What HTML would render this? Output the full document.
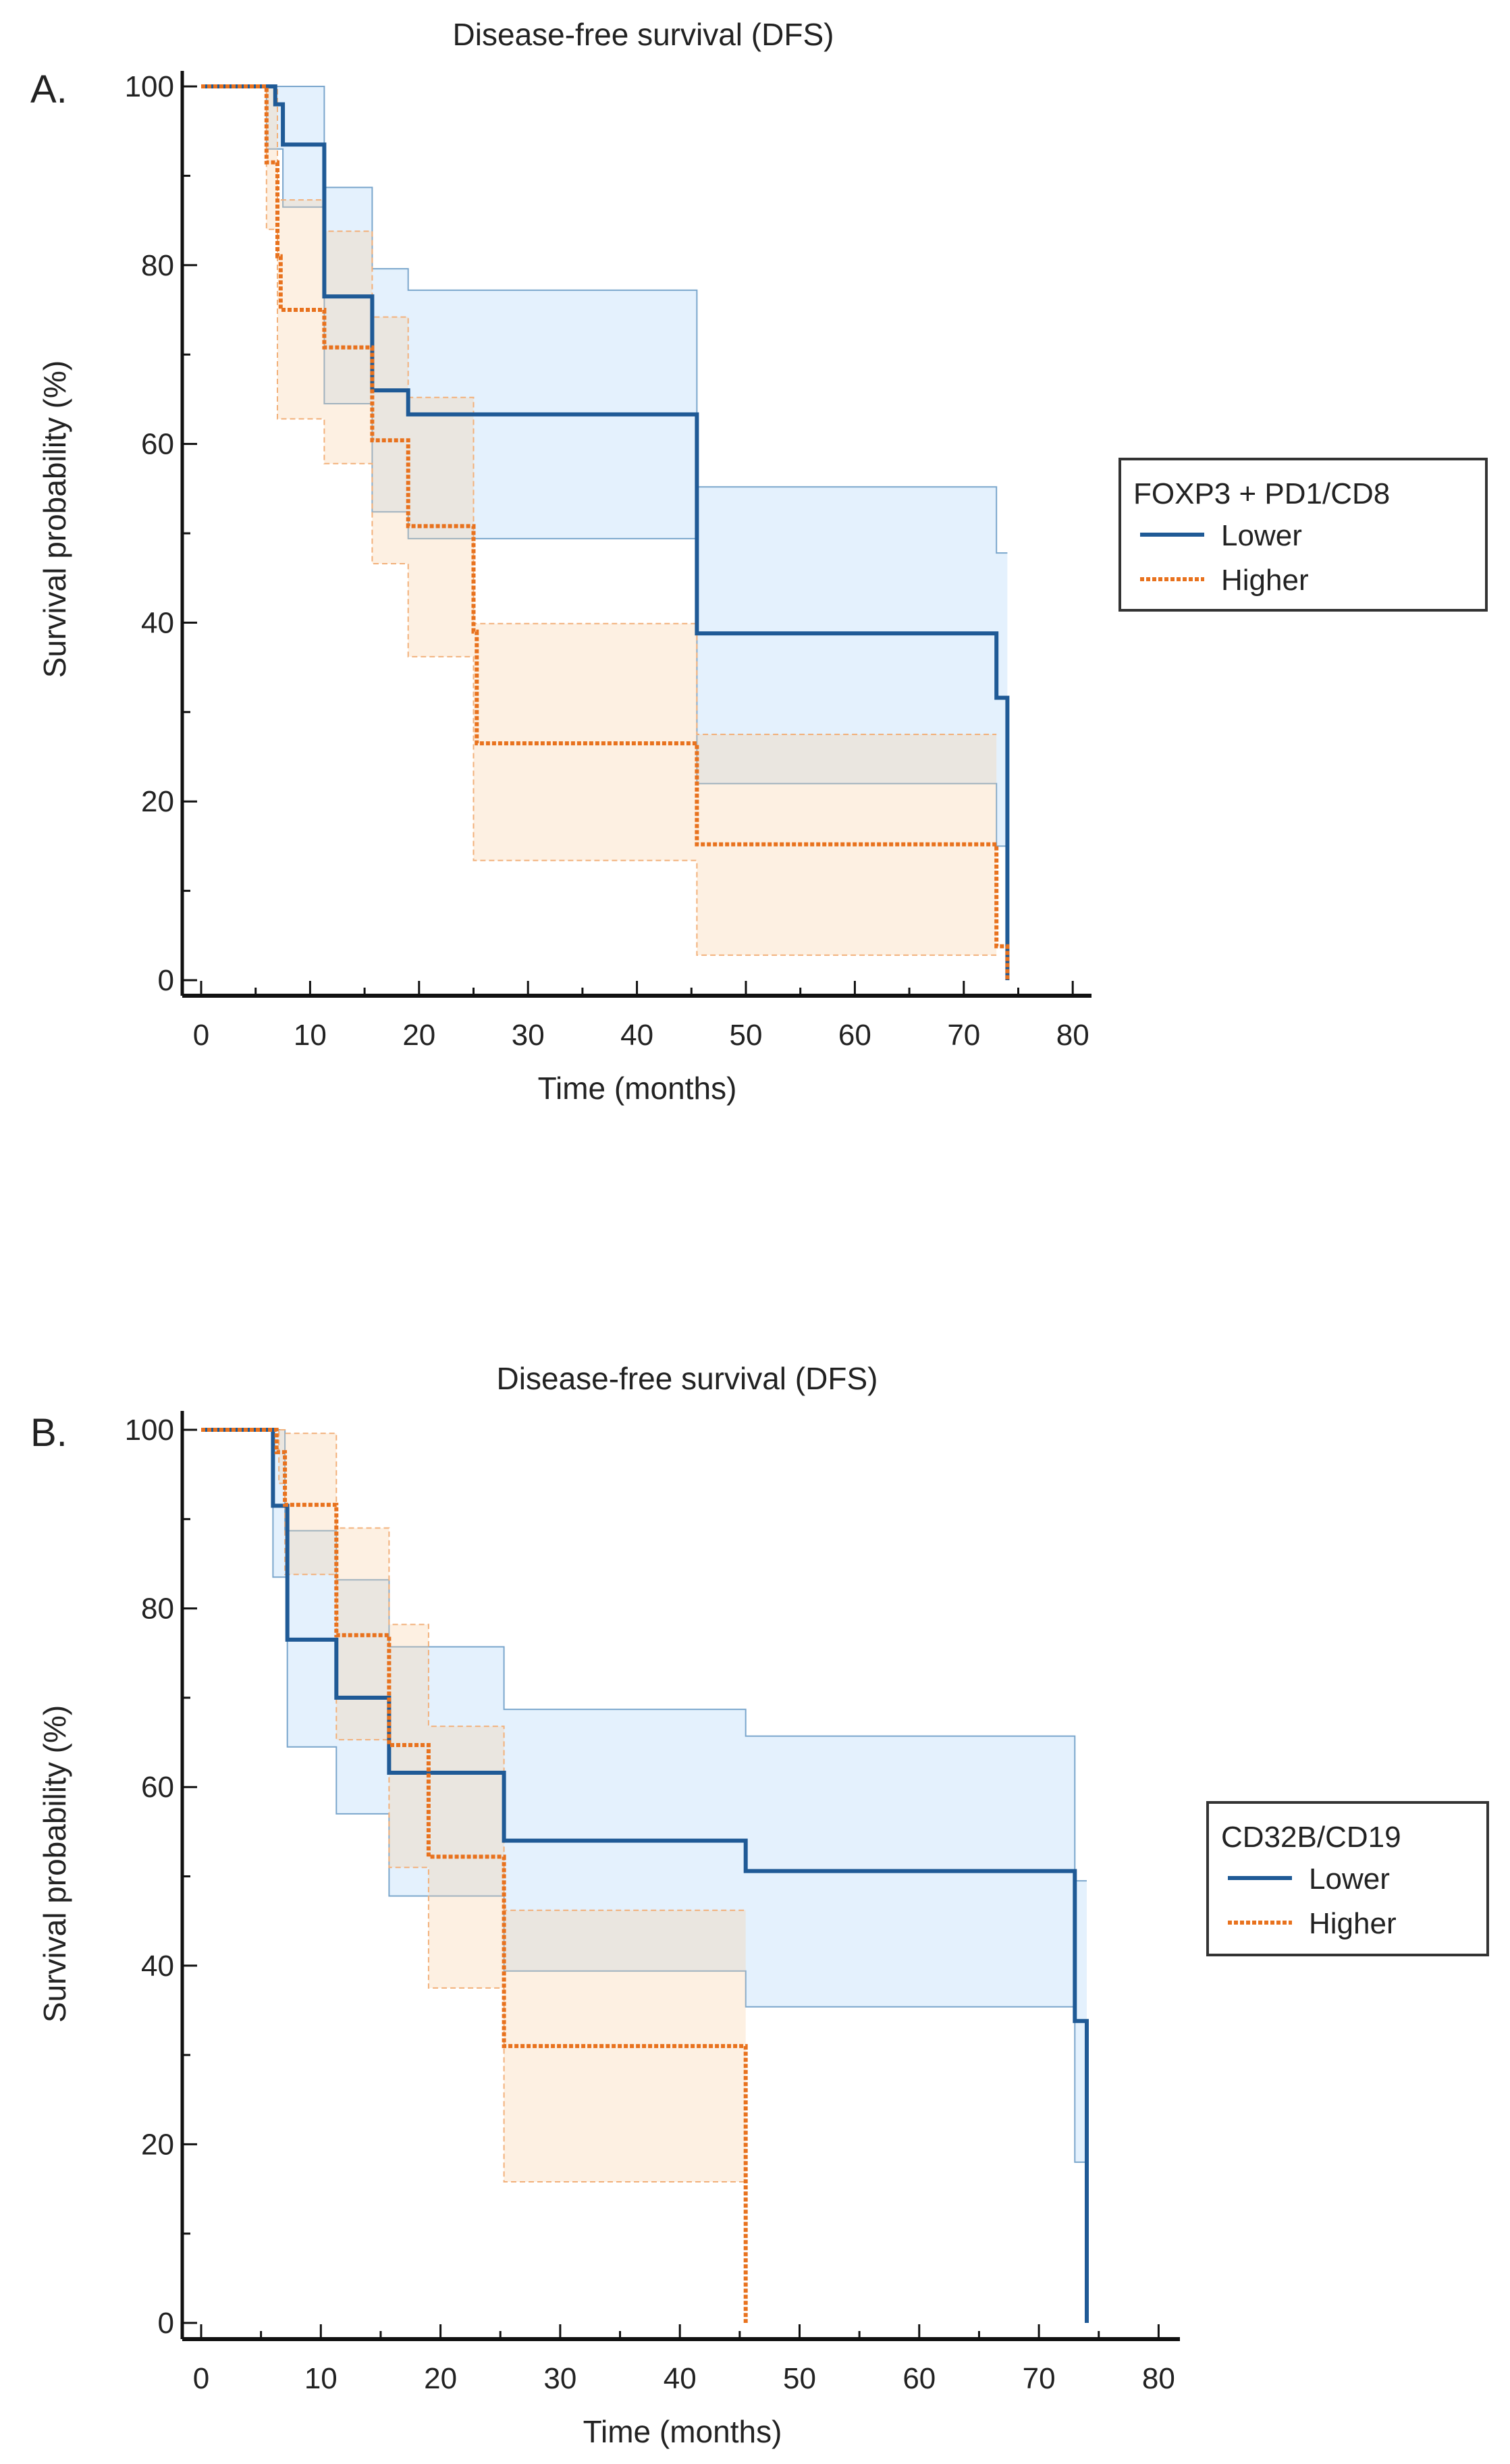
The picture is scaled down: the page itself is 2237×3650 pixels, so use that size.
<!DOCTYPE html>
<html><head><meta charset="utf-8"><style>
html,body{margin:0;padding:0;background:#fff;}
svg{display:block;font-family:"Liberation Sans",Arial,sans-serif;}
</style></head><body>
<svg id="s" width="2237" height="3650" viewBox="0 0 2237 3650"></svg>
<script>
// ---- Data panel A (FOXP3 + PD1/CD8) ----
const aLowT=[0,6.8,7.5,11.3,15.7,19,45.5,73,74];
const aLowV=[100,98,93.5,76.5,66,63.3,38.8,31.6,0];
const aLowUpT=[0,11.3,15.7,19,45.5,73,74];
const aLowUpV=[100,88.7,79.6,77.2,55.2,47.8,47.8];
const aLowLoT=[0,6,7.5,11.3,15.7,19,45.5,73,74];
const aLowLoV=[100,93,86.5,64.5,52.4,49.4,22,15,15];
const aHiT=[0,6,7,7.3,11.3,15.7,19,25,25.3,45.5,73,74];
const aHiV=[100,91.5,81,75,70.8,60.4,50.8,39,26.5,15.2,3.8,0];
const aHiUpT=[0,7,11.3,15.7,19,25,45.5,73];
const aHiUpV=[100,87.3,83.8,74.2,65.2,39.9,27.5,27.5];
const aHiLoT=[0,6,7,11.3,15.7,19,25,45.5,73];
const aHiLoV=[100,84,62.8,57.8,46.6,36.2,13.4,2.8,2.8];
// ---- Data panel B (CD32B/CD19) ----
const bLowT=[0,6,7.2,11.3,15.7,25.3,45.5,73,74];
const bLowV=[100,91.5,76.5,70,61.6,54,50.6,33.8,0];
const bLowUpT=[0,7,11.3,15.7,25.3,45.5,73,74];
const bLowUpV=[100,88.7,83.2,75.7,68.7,65.7,49.5,49.5];
const bLowLoT=[0,6,7.2,11.3,15.7,25.3,45.5,73,74];
const bLowLoV=[100,83.5,64.5,57,47.8,39.4,35.4,18,18];
const bHiT=[0,6.3,7,11.3,15.7,19,25.3,45.5];
const bHiV=[100,97.5,91.6,77,64.7,52.2,31,0];
const bHiUpT=[0,7,11.3,15.7,19,25.3,45.5];
const bHiUpV=[100,99.6,89,78.2,66.8,46.2,46.2];
const bHiLoT=[0,6.5,7,11.3,15.7,19,25.3,45.5];
const bHiLoV=[100,94,83.8,65.3,51,37.5,15.8,15.8];
const xTicks=[0,10,20,30,40,50,60,70,80];
const yTicks=[0,20,40,60,80,100];

const NS="http://www.w3.org/2000/svg";
const svg=document.getElementById('s');
function el(tag,attrs,parent,text){const e=document.createElementNS(NS,tag);for(const k in attrs)e.setAttribute(k,attrs[k]);if(text!==undefined)e.textContent=text;(parent||svg).appendChild(e);return e;}
function stepPts(T,V,xf,yf,end){let p=[];for(let i=0;i<T.length;i++){const t1=(i+1<T.length)?T[i+1]:(end!==undefined?end:T[i]);if(i>0)p.push([xf(T[i]),yf(V[i-1])]);p.push([xf(T[i]),yf(V[i])]);if(i==T.length-1&&t1>T[i])p.push([xf(t1),yf(V[i])]);}return p;}
function pstr(p){return p.map(q=>q[0].toFixed(1)+','+q[1].toFixed(1)).join(' ');}

function panel(cfg){
  const g=el('g',{});
  
  
  const xf=t=>cfg.x0+t*cfg.xs, yf=v=>cfg.y0-v*cfg.ys;
  // bands
  function band(upT,upV,loT,loV,end,fill,stroke,dash,nm){
    const up=stepPts(upT,upV,xf,yf,end), lo=stepPts(loT,loV,xf,yf,end);
    const poly=up.concat(lo.slice().reverse());
    const b=el('polygon',{points:pstr(poly),fill:fill,stroke:'none'},g);
    
    
    el('polyline',{points:pstr(up),fill:'none',stroke:stroke,'stroke-width':2,'stroke-dasharray':dash},g);
    el('polyline',{points:pstr(lo),fill:'none',stroke:stroke,'stroke-width':2,'stroke-dasharray':dash},g);
  }
  band(cfg.lowUpT,cfg.lowUpV,cfg.lowLoT,cfg.lowLoV,cfg.lowEnd,'rgba(170,210,250,0.32)','#7aa6cc','none','lower');
  band(cfg.hiUpT,cfg.hiUpV,cfg.hiLoT,cfg.hiLoV,cfg.hiEnd,'rgba(250,205,160,0.3)','#f2b07a','8,5','higher');
  const lo=el('polyline',{points:pstr(stepPts(cfg.lowT,cfg.lowV,xf,yf)),fill:'none',stroke:'#1f5a96','stroke-width':6},g);
  
  
  const hi=el('polyline',{points:pstr(stepPts(cfg.hiT,cfg.hiV,xf,yf)),fill:'none',stroke:'#e8721e','stroke-width':6,'stroke-dasharray':'6,3'},g);
  
  
  // axes
  el('line',{x1:cfg.axL,y1:cfg.axTop,x2:cfg.axL,y2:cfg.axB,stroke:'#111','stroke-width':5},g);
  el('line',{x1:cfg.axL,y1:cfg.axB,x2:cfg.axR,y2:cfg.axB,stroke:'#111','stroke-width':6},g);
  for(let t=0;t<=80;t+=5){const major=t%10==0;el('line',{x1:xf(t),y1:cfg.axB,x2:xf(t),y2:cfg.axB-(major?22:12),stroke:'#111','stroke-width':3},g);}
  xTicks.forEach(t=>{const tx=el('text',{x:xf(t),y:cfg.xLabY,'font-size':44,'text-anchor':'middle',fill:'#222'},g,String(t));});
  for(let v=0;v<=100;v+=10){const major=v%20==0;el('line',{x1:cfg.axL,y1:yf(v),x2:cfg.axL+(major?22:12),y2:yf(v),stroke:'#111','stroke-width':3},g);}
  yTicks.forEach(v=>{const tx=el('text',{x:cfg.axL-12,y:yf(v)+15,'font-size':44,'text-anchor':'end',fill:'#222'},g,String(v));});
  const tt=el('text',{x:cfg.titleX,y:cfg.titleY,'font-size':46,'text-anchor':'middle',fill:'#222'},g,'Disease-free survival (DFS)');
  
  const pl=el('text',{x:45,y:cfg.letterY,'font-size':58,fill:'#222'},g,cfg.letter);
  
  const xt=el('text',{x:cfg.xTitleX,y:cfg.xTitleY,'font-size':46,'text-anchor':'middle',fill:'#222'},g,'Time (months)');
  
  const yt=el('text',{x:0,y:0,'font-size':46,'text-anchor':'middle',fill:'#222',transform:`translate(97,${cfg.yTitleY}) rotate(-90)`},g,'Survival probability (%)');
  
  // legend
  const L=cfg.leg;
  const lg=el('g',{},g);
  
  el('rect',{x:L.x,y:L.y,width:L.w,height:L.h,fill:'#fff',stroke:'#333','stroke-width':4},lg);
  el('text',{x:L.x+20,y:L.y+66,'font-size':44,fill:'#222'},lg,cfg.legTitle);
  el('line',{x1:L.x+30,y1:L.y+112,x2:L.x+125,y2:L.y+112,stroke:'#1f5a96','stroke-width':6},lg);
  const e1=el('text',{x:L.x+150,y:L.y+128,'font-size':44,fill:'#222'},lg,'Lower');
  
  el('line',{x1:L.x+30,y1:L.y+178,x2:L.x+125,y2:L.y+178,stroke:'#e8721e','stroke-width':6,'stroke-dasharray':'6,3'},lg);
  const e2=el('text',{x:L.x+150,y:L.y+194,'font-size':44,fill:'#222'},lg,'Higher');
  
}
panel({name:'panel-a',x0:298,xs:16.14,y0:1452,ys:13.24,axL:270,axTop:105,axB:1475,axR:1617,xLabY:1548,
  titleX:953,titleY:67,letter:'A.',letterY:152,xTitleX:944,xTitleY:1628,yTitleY:769,
  leg:{x:1659,y:680,w:543,h:224},legTitle:'FOXP3 + PD1/CD8',
  lowT:aLowT,lowV:aLowV,lowUpT:aLowUpT,lowUpV:aLowUpV,lowLoT:aLowLoT,lowLoV:aLowLoV,lowEnd:74,
  hiT:aHiT,hiV:aHiV,hiUpT:aHiUpT,hiUpV:aHiUpV,hiLoT:aHiLoT,hiLoV:aHiLoV,hiEnd:73});
panel({name:'panel-b',x0:298,xs:17.73,y0:3441,ys:13.23,axL:270,axTop:2090,axB:3465,axR:1748,xLabY:3538,
  titleX:1018,titleY:2058,letter:'B.',letterY:2142,xTitleX:1011,xTitleY:3618,yTitleY:2761,
  leg:{x:1789,y:2670,w:415,h:226},legTitle:'CD32B/CD19',
  lowT:bLowT,lowV:bLowV,lowUpT:bLowUpT,lowUpV:bLowUpV,lowLoT:bLowLoT,lowLoV:bLowLoV,lowEnd:74,
  hiT:bHiT,hiV:bHiV,hiUpT:bHiUpT,hiUpV:bHiUpV,hiLoT:bHiLoT,hiLoV:bHiLoV,hiEnd:45.5});
</script>
</body></html>
